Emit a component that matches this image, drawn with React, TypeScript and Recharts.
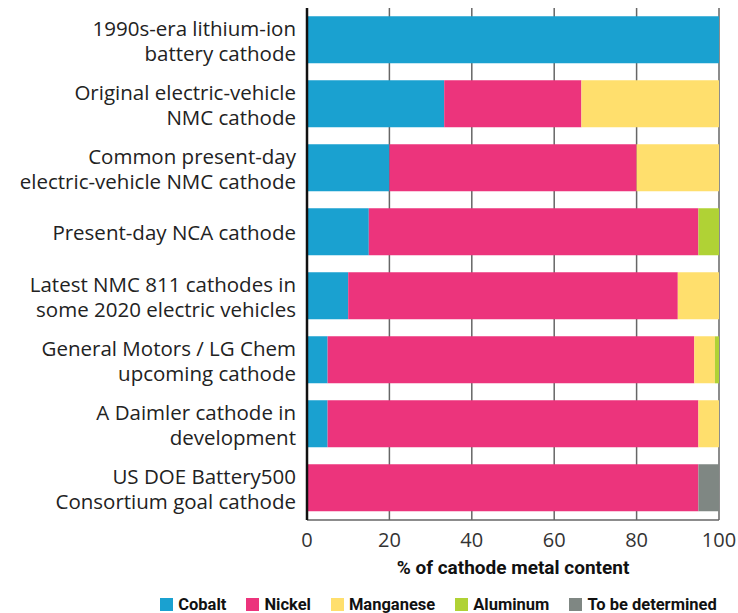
import React from 'react';
import { BarChart, Bar, XAxis, YAxis, CartesianGrid, Legend } from 'recharts';

const categories = [
  ['1990s-era lithium-ion', 'battery cathode'],
  ['Original electric-vehicle', 'NMC cathode'],
  ['Common present-day', 'electric-vehicle NMC cathode'],
  ['Present-day NCA cathode'],
  ['Latest NMC 811 cathodes in', 'some 2020 electric vehicles'],
  ['General Motors / LG Chem', 'upcoming cathode'],
  ['A Daimler cathode in', 'development'],
  ['US DOE Battery500', 'Consortium goal cathode'],
];

const cobalt = [100, 33.3, 20, 15, 10, 5, 5, 0];
const nickel = [0, 33.3, 60, 80, 80, 89, 90, 95];
const manganese = [0, 33.4, 20, 0, 10, 5, 5, 0];
const aluminum = [0, 0, 0, 5, 0, 1, 0, 0];
const tbd = [0, 0, 0, 0, 0, 0, 0, 5];

const xTicks = [0, 20, 40, 60, 80, 100];

const series = [
  { key: 'cobalt', name: 'Cobalt', color: '#1aa1d0' },
  { key: 'nickel', name: 'Nickel', color: '#ec347c' },
  { key: 'manganese', name: 'Manganese', color: '#ffdf6d' },
  { key: 'aluminum', name: 'Aluminum', color: '#b0d235' },
  { key: 'tbd', name: 'To be determined', color: '#7f8783' },
];

const data = categories.map((lines, i) => ({
  name: lines.join(' '),
  cobalt: cobalt[i],
  nickel: nickel[i],
  manganese: manganese[i],
  aluminum: aluminum[i],
  tbd: tbd[i],
}));

const labelFont = '"Open Sans", sans-serif';

const CategoryTick = ({ x, y, payload }: any) => {
  const lines = categories.find((c) => c.join(' ') === payload.value) || [payload.value];
  const lh = 25;
  const startY = y - ((lines.length - 1) * lh) / 2;
  return (
    <text x={x - 3} y={startY} textAnchor="end" fontSize={20.5} fill="#222" fontFamily={labelFont} dominantBaseline="central">
      {lines.map((l: string, i: number) => (
        <tspan key={i} x={x - 3} y={startY + i * lh}>
          {l}
        </tspan>
      ))}
    </text>
  );
};

const LegendContent = () => (
  <div style={{ display: 'flex', justifyContent: 'center', gap: 20, fontFamily: 'Roboto, sans-serif', fontWeight: 700, fontSize: 16.5, color: '#111', paddingLeft: 158, paddingTop: 12 }}>
    {series.map((s) => (
      <div key={s.key} style={{ display: 'flex', alignItems: 'center', gap: 5 }}>
        <div style={{ width: 13, height: 13, background: s.color }} />
        <span>{s.name}</span>
      </div>
    ))}
  </div>
);

export default function App() {
  return (
    <div style={{ width: 738, height: 613, background: '#fff' }}>
      <style>{'body{margin:0}'}</style>
      <BarChart
        width={738}
        height={613}
        data={data}
        layout="vertical"
        margin={{ top: 8, right: 19, left: 0, bottom: 0 }}
        barCategoryGap="13%"
      >
        <CartesianGrid horizontal={false} stroke="#666" strokeWidth={1.5} />
        <XAxis
          type="number"
          domain={[0, 100]}
          ticks={xTicks}
          tickLine={false}
          axisLine={{ stroke: '#666', strokeWidth: 1.5 }}
          height={63}
          tick={{ fontSize: 20, fill: '#333', fontFamily: labelFont }}
          tickMargin={7}
          label={{ value: '% of cathode metal content', position: 'insideBottom', offset: 9, style: { fontSize: 19, fontWeight: 700, fill: '#111', fontFamily: 'Roboto, sans-serif' } }}
        />
        <XAxis xAxisId="top" orientation="top" type="number" domain={[0, 100]} tick={false} tickLine={false} height={0} axisLine={{ stroke: '#555', strokeWidth: 1.5 }} />
        <YAxis
          type="category"
          dataKey="name"
          width={307}
          tickLine={false}
          axisLine={{ stroke: '#111', strokeWidth: 2.5 }}
          tick={<CategoryTick />}
          interval={0}
        />
        {series.map((s) => (
          <Bar key={s.key} dataKey={s.key} name={s.name} stackId="a" fill={s.color} isAnimationActive={false} />
        ))}
        <Legend verticalAlign="bottom" height={30} content={<LegendContent />} />
      </BarChart>
    </div>
  );
}
